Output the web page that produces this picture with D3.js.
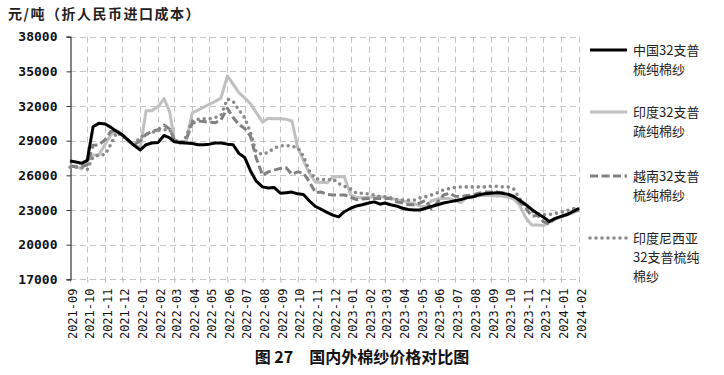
<!DOCTYPE html>
<html lang="zh">
<head>
<meta charset="UTF-8">
<title>国内外棉纱价格对比图</title>
<script src="https://d3js.org/d3.v7.min.js"></script>
<style>
  body { margin: 0; background: #fff; }
  svg text { font-family: "Noto Sans CJK SC", sans-serif; }
</style>
</head>
<body>
<svg id="chart" width="724" height="375"></svg>
<script>
// 月份标签
const months = ["2021-09","2021-10","2021-11","2021-12","2022-01","2022-02","2022-03","2022-04",
  "2022-05","2022-06","2022-07","2022-08","2022-09","2022-10","2022-11","2022-12","2023-01",
  "2023-02","2023-03","2023-04","2023-05","2023-06","2023-07","2023-08","2023-09","2023-10",
  "2023-11","2023-12","2024-01","2024-02"];
// 每月取 1、11、21 日三个观测点（最后一个月只到 1 日）
const sampleDays = [1, 11, 21];
const yTicks = [17000, 20000, 23000, 26000, 29000, 32000, 35000, 38000];

const china = [27250,27150,27040,27300,30200,30500,30450,30150,29800,29500,
  29050,28600,28200,28650,28800,28850,29450,29250,28900,28850,
  28800,28750,28650,28650,28700,28800,28800,28700,28650,27900,
  27550,26400,25500,25000,24900,24950,24450,24500,24550,24400,
  24350,23800,23300,23050,22800,22550,22400,22850,23150,23350,
  23450,23600,23700,23500,23600,23450,23350,23150,23050,23000,
  23000,23150,23300,23450,23600,23700,23800,23900,24050,24150,
  24300,24400,24450,24500,24450,24350,24150,23850,23450,23050,
  22700,22400,22000,22250,22450,22600,22850,23150];
const india = [26900,26750,26550,27200,27760,27760,28700,29500,29900,29450,
  29000,28600,28400,31600,31600,31950,32650,31500,29000,28770,
  28800,31400,31650,31900,32150,32400,32700,34600,33900,33150,
  32700,32200,31450,30600,30950,30900,30900,30850,30700,28400,
  27300,26200,25400,25400,25350,25850,25900,25850,24300,24100,
  24050,24100,24150,24150,24100,24000,23900,23800,23650,23550,
  23350,23300,23800,23950,24000,24000,23800,23650,24050,24150,
  24250,24250,24250,24200,24200,24100,23950,23400,22300,21700,
  21700,21650,21900,22200,22400,22550,22750,23000];
const vietnam = [26800,26750,26750,26900,28600,28620,29100,29800,29900,29450,
  29000,28650,29000,29550,29800,29950,30350,30000,29100,28800,
  29000,30500,30700,30650,30600,30550,30800,31800,31000,30400,
  30050,29400,27500,26000,26300,26450,26600,26650,26100,26300,
  26200,25450,24500,24550,24350,24300,24300,24300,24100,23900,
  23950,24000,24000,24000,24000,24000,23700,23600,23450,23450,
  23600,23850,23100,23700,24300,24450,24200,24150,24250,24300,
  24450,24550,24550,24550,24500,24400,24200,23700,23150,22450,
  22550,22000,21800,22250,22450,22650,22850,23000];
const indonesia = [26700,26700,26700,26500,27600,27750,27800,28700,29700,29400,
  29000,28650,29300,29550,29700,29900,29950,29950,29100,28800,
  29300,30700,30850,30900,30900,31000,31200,32600,32400,31650,
  31000,29700,28000,27800,28000,28350,28550,28600,28500,28400,
  27650,26400,25700,25650,25600,25700,25300,25050,24800,24450,
  24450,24400,24300,24150,24150,24050,23900,23850,23850,23850,
  24050,24150,24300,24500,24750,24850,24950,25000,25000,25000,
  25000,25000,25050,25050,25000,25000,24800,24000,23300,22900,
  22700,22600,22600,22700,22800,22950,23100,23300];

const parseDay = d3.timeParse("%Y-%m-%d");
const dates = [];
months.forEach((m, i) => {
  const days = i === months.length - 1 ? [1] : sampleDays;
  days.forEach(d => dates.push(parseDay(m + "-" + String(d).padStart(2, "0"))));
});
const monthDates = months.map(m => parseDay(m + "-01"));

const series = [
  { name: ["印度32支普", "疏纯棉纱"], values: india, color: "#c0c0c0", dash: null, width: 3, cap: "butt" },
  { name: ["越南32支普", "梳纯棉纱"], values: vietnam, color: "#808080", dash: "8 3.5", width: 3, cap: "butt" },
  { name: ["印度尼西亚", "32支普梳纯", "棉纱"], values: indonesia, color: "#8a8a8a", dash: "0 6", width: 3.6, cap: "round" },
  { name: ["中国32支普", "梳纯棉纱"], values: china, color: "#000", dash: null, width: 3, cap: "butt" }
];
const legendOrder = [3, 0, 1, 2];
const legendY = [50, 112, 176, 238];

const monoFont = "'DejaVu Sans Mono', 'Liberation Mono', monospace";

const svg = d3.select("#chart");
const plotLeft = 70, plotRight = 579, plotTop = 36.7, plotBottom = 279.3;

const x = d3.scaleTime().domain([monthDates[0], monthDates[monthDates.length - 1]]).range([plotLeft, plotRight]);
const y = d3.scaleLinear().domain([17000, 38000]).range([plotBottom, plotTop]);

// 网格线
const grid = svg.append("g").attr("stroke", "#c4c4c4").attr("stroke-width", 1).attr("stroke-dasharray", "6 4");
grid.selectAll("line.h").data(yTicks).enter().append("line")
  .attr("x1", plotLeft).attr("x2", plotRight)
  .attr("y1", d => Math.round(y(d)) + 0.5).attr("y2", d => Math.round(y(d)) + 0.5);
grid.selectAll("line.v").data(monthDates.slice(1)).enter().append("line")
  .attr("x1", d => Math.round(x(d)) + 0.5).attr("x2", d => Math.round(x(d)) + 0.5)
  .attr("y1", plotTop).attr("y2", plotBottom);

// x 轴
const xAxis = svg.append("g")
  .attr("transform", "translate(0," + (Math.round(plotBottom) + 0.5) + ")")
  .call(d3.axisBottom(x).tickValues(monthDates).tickSize(3).tickFormat((d, i) => months[i]));
xAxis.select(".domain").remove();
xAxis.selectAll(".tick line").attr("stroke", "#b0b0b0");
xAxis.selectAll(".tick text")
  .style("font-family", monoFont)
  .attr("font-size", 12)
  .attr("fill", "#111")
  .attr("text-anchor", "end")
  .attr("transform", "rotate(-90)")
  .attr("x", -9).attr("y", 2).attr("dy", "0.35em");

// y 轴
const yAxis = svg.append("g")
  .attr("transform", "translate(" + (plotLeft + 0.5) + ",0)")
  .call(d3.axisLeft(y).tickValues(yTicks).tickSize(4).tickPadding(9).tickFormat(d3.format("d")));
yAxis.select(".domain").attr("stroke", "#333").attr("stroke-width", 1.2);
yAxis.selectAll(".tick line").attr("stroke", "#333");
yAxis.selectAll(".tick text").style("font-family", monoFont).attr("font-size", 13)
  .attr("font-weight", "bold").attr("fill", "#111");

// 折线
const line = d3.line().x((d, i) => x(dates[i])).y(d => y(d));
svg.append("g").selectAll("path").data(series).enter().append("path")
  .attr("fill", "none")
  .attr("stroke", d => d.color)
  .attr("stroke-width", d => d.width)
  .attr("stroke-dasharray", d => d.dash)
  .attr("stroke-linecap", d => d.cap)
  .attr("stroke-linejoin", "round")
  .attr("d", d => line(d.values));

// 图例
const legend = svg.append("g");
legendOrder.forEach((si, k) => {
  const s = series[si];
  const g = legend.append("g").attr("transform", "translate(0," + legendY[k] + ")");
  g.append("line").attr("x1", 590).attr("x2", 627).attr("y1", 0).attr("y2", 0)
    .attr("stroke", s.color).attr("stroke-width", s.width)
    .attr("stroke-dasharray", s.dash).attr("stroke-linecap", s.cap);
  s.name.forEach((t, j) => {
    g.append("text").attr("x", 633).attr("y", j * 19).attr("dy", "0.35em")
      .attr("font-size", 13).attr("fill", "#222").text(t);
  });
});

// 单位与标题
svg.append("text").attr("x", 8).attr("y", 14).attr("dy", "0.35em")
  .attr("font-size", 14).attr("font-weight", "bold").attr("fill", "#222")
  .attr("letter-spacing", 1.5)
  .text("元/吨（折人民币进口成本）");
svg.append("text").attr("x", 362).attr("y", 357).attr("dy", "0.35em")
  .attr("text-anchor", "middle").attr("font-size", 16).attr("font-weight", "bold").attr("fill", "#111")
  .text("图 27　国内外棉纱价格对比图");
</script>
</body>
</html>
